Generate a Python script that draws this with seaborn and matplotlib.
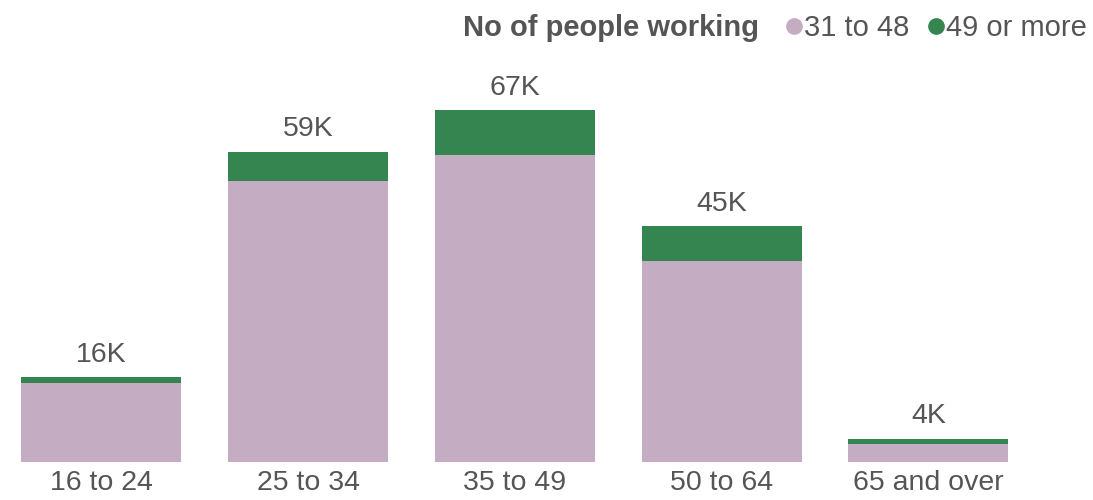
import matplotlib
matplotlib.use("Agg")
import matplotlib.pyplot as plt
import seaborn as sns
from matplotlib.lines import Line2D

categories = ["16 to 24", "25 to 34", "35 to 49", "50 to 64", "65 and over"]
hours_31_48 = [15.0, 53.6, 58.4, 38.2, 3.5]
hours_49_plus = [1.1, 5.5, 8.6, 6.7, 0.9]
series_names = ["31 to 48", "49 or more"]
totals = [a + b for a, b in zip(hours_31_48, hours_49_plus)]

pink = "#C4ADC2"
green = "#358550"
text_col = "#555555"

sns.set_theme(style="white")
plt.rcParams["font.family"] = ["Liberation Sans", "DejaVu Sans"]

fig = plt.figure(figsize=(10.93, 5), dpi=100)
ax = fig.add_axes([-0.002, 0.076, 0.946, 0.798])

sns.barplot(x=categories, y=totals, color=green, width=0.773, saturation=1,
            linewidth=0, ax=ax)
sns.barplot(x=categories, y=hours_31_48, color=pink, width=0.773, saturation=1,
            linewidth=0, ax=ax)

for i, t in enumerate(totals):
    ax.annotate(f"{round(t)}K", (i, t), xytext=(0, 7), textcoords="offset points",
                ha="center", va="bottom", fontsize=20.5, color=text_col)

ax.set_ylim(0, 76)
ax.set_xlim(-0.5, 4.5)
ax.set_yticks([])
ax.set_xlabel("")
ax.set_ylabel("")
ax.tick_params(axis="x", labelsize=20.5, colors=text_col, length=0, pad=6)
sns.despine(ax=ax, left=True, bottom=True)

fig.text(0.4236, 0.944, "No of people working", fontsize=21, fontweight="bold",
         color=text_col, va="center", ha="left")
handles = [Line2D([], [], marker="o", linestyle="", markersize=11, color=c)
           for c in [pink, green]]
fig.legend(handles, series_names, loc="center right", bbox_to_anchor=(0.997, 0.944),
           ncol=2, frameon=False, fontsize=21, handletextpad=0.05, columnspacing=0.6,
           handlelength=0.6, labelcolor=text_col, borderpad=0.1, borderaxespad=0)

fig.savefig("out.png", dpi=100)
